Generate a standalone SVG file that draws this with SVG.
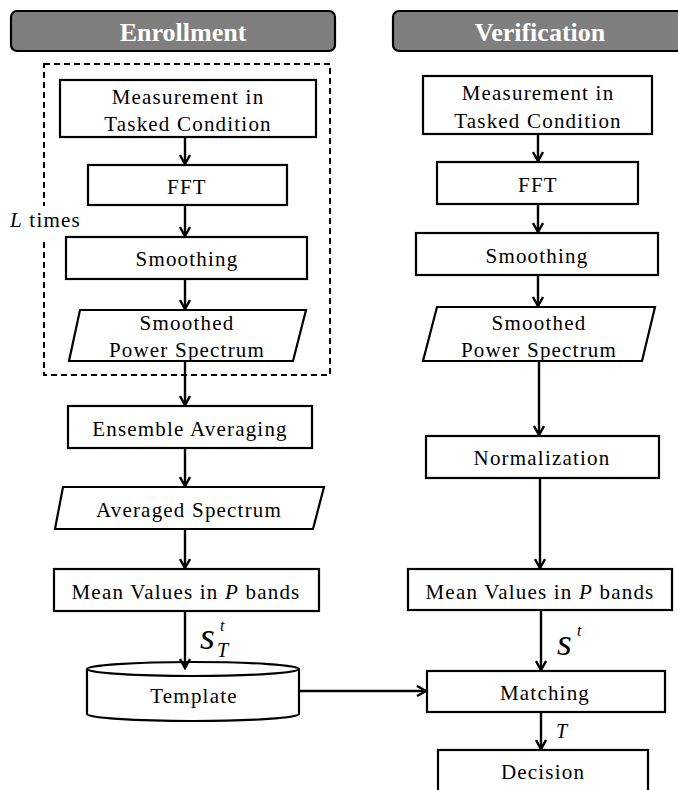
<svg xmlns="http://www.w3.org/2000/svg" width="678" height="790" viewBox="0 0 678 790">
<defs>
<marker id="arr" markerWidth="12" markerHeight="12" refX="10" refY="6" orient="auto" markerUnits="userSpaceOnUse">
<path d="M1,1 L10,6 L1,11" fill="none" stroke="#000" stroke-width="2.4"/>
</marker>
<style>
text{font-family:"Liberation Serif","DejaVu Serif",serif}
.box{fill:#fff;stroke:#000;stroke-width:2.2}
.hdr{fill:#7f7f7f;stroke:#000;stroke-width:2.2}
.t{font-size:21px;fill:#000;text-anchor:middle;letter-spacing:1.2px}
.h{font-size:26px;font-weight:bold;fill:#fff;text-anchor:middle}
.m{font-style:italic;fill:#000}
.c{fill:none;stroke:#000;stroke-width:2.4;marker-end:url(#arr)}
</style>
</defs>
<rect width="678" height="790" fill="#fff"/>

<g id="enroll-header"><rect class="hdr" x="11" y="11" width="324" height="40" rx="6"/><text class="h" x="183" y="41">Enrollment</text></g>
<g id="verif-header"><rect class="hdr" x="393" y="11" width="290" height="40" rx="6"/><text class="h" x="540" y="41">Verification</text></g>

<g id="loop">
<rect x="44" y="64" width="286" height="311" fill="none" stroke="#000" stroke-width="2" stroke-dasharray="6,4"/>
<rect x="4" y="206" width="80" height="32" fill="#fff"/>
<text x="10" y="227" font-size="21" letter-spacing="1.2"><tspan font-style="italic">L</tspan> times</text>
</g>

<g id="e-meas"><rect class="box" x="60" y="80" width="256" height="57"/><text class="t" x="188" y="104">Measurement in</text><text class="t" x="188" y="131">Tasked Condition</text></g>
<g id="e-fft"><rect class="box" x="88" y="165" width="199" height="40"/><text class="t" x="187" y="194">FFT</text></g>
<g id="e-smooth"><rect class="box" x="66" y="237" width="241" height="42"/><text class="t" x="187" y="266">Smoothing</text></g>
<g id="e-sps"><polygon class="box" points="80,310 306,310 293,361 69,361"/><text class="t" x="187" y="330">Smoothed</text><text class="t" x="187" y="357">Power Spectrum</text></g>
<g id="e-ens"><rect class="box" x="68" y="406" width="244" height="42"/><text class="t" x="190" y="436">Ensemble Averaging</text></g>
<g id="e-avg"><polygon class="box" points="63,487 324,487 313,529 55,529"/><text class="t" x="189" y="517">Averaged Spectrum</text></g>
<g id="e-mean"><rect class="box" x="54" y="569" width="265" height="42"/><text class="t" x="186" y="599">Mean Values in <tspan font-style="italic">P</tspan> bands</text></g>
<g id="e-template">
<path class="box" d="M87,669 L87,714 A106,7 0 0 0 299,714 L299,669"/>
<ellipse class="box" cx="193" cy="669" rx="106" ry="7"/>
<text class="t" x="194" y="703">Template</text>
</g>

<g id="v-meas"><rect class="box" x="423" y="76" width="229" height="58"/><text class="t" x="538" y="100">Measurement  in</text><text class="t" x="538" y="128">Tasked Condition</text></g>
<g id="v-fft"><rect class="box" x="437" y="162" width="201" height="42"/><text class="t" x="538" y="192">FFT</text></g>
<g id="v-smooth"><rect class="box" x="416" y="233" width="242" height="42"/><text class="t" x="537" y="263">Smoothing</text></g>
<g id="v-sps"><polygon class="box" points="437,307 655,307 642,361 423,361"/><text class="t" x="539" y="330">Smoothed</text><text class="t" x="539" y="357">Power Spectrum</text></g>
<g id="v-norm"><rect class="box" x="426" y="436" width="233" height="42"/><text class="t" x="542" y="465">Normalization</text></g>
<g id="v-mean"><rect class="box" x="408" y="569" width="264" height="41"/><text class="t" x="540" y="599">Mean Values in <tspan font-style="italic">P</tspan> bands</text></g>
<g id="v-match"><rect class="box" x="427" y="671" width="238" height="41"/><text class="t" x="545" y="700">Matching</text></g>
<g id="v-dec"><rect class="box" x="438" y="750" width="210" height="42"/><text class="t" x="543" y="779">Decision</text></g>

<g id="connectors">
<line class="c" x1="185" y1="137" x2="185" y2="164"/>
<line class="c" x1="185" y1="205" x2="185" y2="236"/>
<line class="c" x1="185" y1="279" x2="185" y2="309"/>
<line class="c" x1="185" y1="361" x2="185" y2="405"/>
<line class="c" x1="185" y1="448" x2="185" y2="486"/>
<line class="c" x1="185" y1="529" x2="185" y2="568"/>
<line class="c" x1="185" y1="611" x2="185" y2="668"/>
<line class="c" x1="299" y1="691" x2="426" y2="691"/>
<line class="c" x1="538" y1="134" x2="538" y2="161"/>
<line class="c" x1="538" y1="204" x2="538" y2="232"/>
<line class="c" x1="538" y1="275" x2="538" y2="306"/>
<line class="c" x1="539" y1="361" x2="539" y2="435"/>
<line class="c" x1="540" y1="478" x2="540" y2="568"/>
<line class="c" x1="541" y1="610" x2="541" y2="670"/>
<line class="c" x1="541" y1="712" x2="541" y2="749"/>
</g>

<g id="labels">
<text class="m" x="200" y="649" font-size="38">s</text>
<text class="m" x="220" y="631" font-size="16">t</text>
<text class="m" x="217" y="657" font-size="20">T</text>
<text class="m" x="557" y="655" font-size="38">s</text>
<text class="m" x="577" y="636" font-size="16">t</text>
<text class="m" x="556" y="738" font-size="20">T</text>
</g>
</svg>
